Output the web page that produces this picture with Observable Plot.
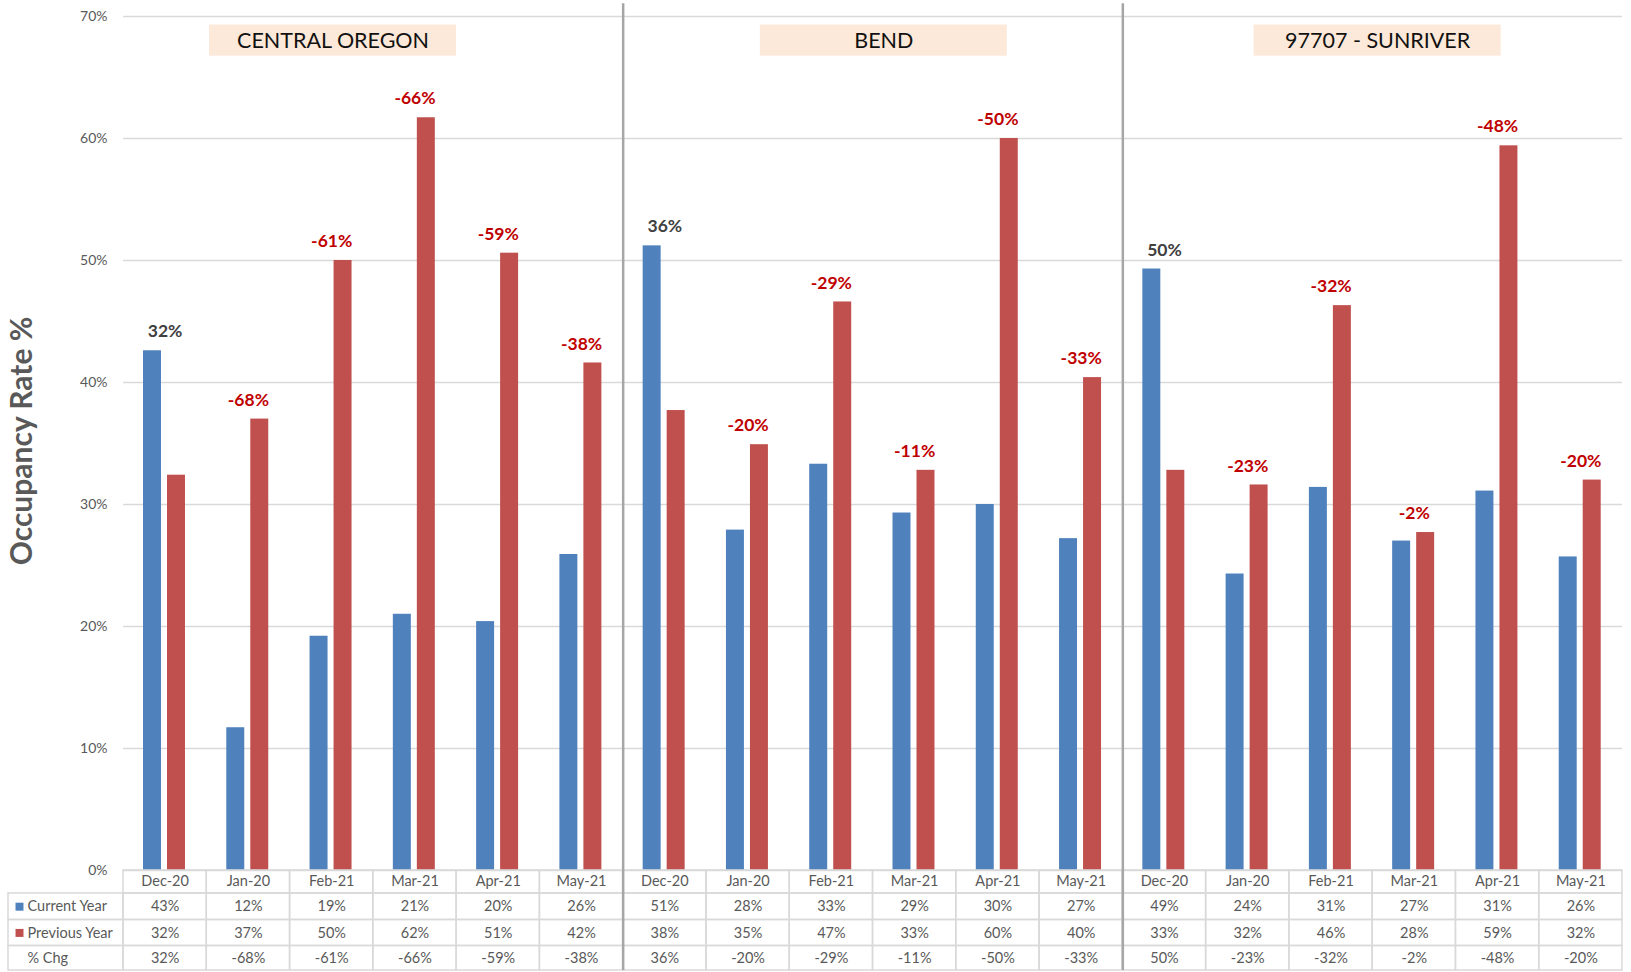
<!DOCTYPE html>
<html>
<head>
<meta charset="utf-8">
<script src="https://cdn.jsdelivr.net/npm/d3@7"></script>
<script src="https://cdn.jsdelivr.net/npm/@observablehq/plot@0.6"></script>
<style>
  html, body { margin: 0; padding: 0; background: #fff; }
  #chart svg { display: block; }
</style>
</head>
<body>
<div id="chart"></div>
<script>
// ---------- DATA ----------
const months = ["Dec-20", "Jan-20", "Feb-21", "Mar-21", "Apr-21", "May-21"];
const regionNames = ["CENTRAL OREGON", "BEND", "97707 - SUNRIVER"];

const coCurrent  = [42.6, 11.7, 19.2, 21.0, 20.4, 25.9];
const coPrevious = [32.4, 37.0, 50.0, 61.7, 50.6, 41.6];
const coChg      = ["32%", "-68%", "-61%", "-66%", "-59%", "-38%"];

const bendCurrent  = [51.2, 27.9, 33.3, 29.3, 30.0, 27.2];
const bendPrevious = [37.7, 34.9, 46.6, 32.8, 60.0, 40.4];
const bendChg      = ["36%", "-20%", "-29%", "-11%", "-50%", "-33%"];

const srCurrent  = [49.3, 24.3, 31.4, 27.0, 31.1, 25.7];
const srPrevious = [32.8, 31.6, 46.3, 27.7, 59.4, 32.0];
const srChg      = ["50%", "-23%", "-32%", "-2%", "-48%", "-20%"];

const yTicks = [0, 10, 20, 30, 40, 50, 60, 70];
const rowLabels = ["Current Year", "Previous Year", "% Chg"];

// ---------- LAYOUT (not data) ----------
const xLeft = -1.381;                    // left edge of the table label column, in group units
const titleCenters = [2.516, 9.13, 15.06]; // title box centres, in group units
const titleHalf = 1.483;
const rowBounds = [0, -1.885, -4.06, -6.19, -8.2]; // table row borders in y units
const rowMid = [-0.92, -2.97, -5.12, -7.2];
const colors = {cur: "#4f81bd", prev: "#c0504d"};

// ---------- BUILD TABLES ----------
const series = [
  [coCurrent, coPrevious, coChg],
  [bendCurrent, bendPrevious, bendChg],
  [srCurrent, srPrevious, srChg]
];
const groups = [];
series.forEach(([cur, prev, chg], r) => {
  months.forEach((m, j) => {
    groups.push({idx: r * 6 + j, region: regionNames[r], month: m, cur: cur[j], prev: prev[j], chg: chg[j]});
  });
});
const bars = groups.flatMap(g => [
  {idx: g.idx, series: "cur", value: g.cur},
  {idx: g.idx, series: "prev", value: g.prev}
]);
const titles = regionNames.map((name, r) => ({name, c: titleCenters[r]}));

const cells = [];
groups.forEach(g => {
  for (let k = 0; k < 4; k++) cells.push({x1: g.idx, x2: g.idx + 1, y1: rowBounds[k + 1], y2: rowBounds[k]});
});
for (let k = 1; k < 4; k++) cells.push({x1: xLeft, x2: 0, y1: rowBounds[k + 1], y2: rowBounds[k]});

const tableTexts = groups.flatMap(g => [
  {idx: g.idx, row: 0, text: g.month},
  {idx: g.idx, row: 1, text: Math.round(g.cur) + "%"},
  {idx: g.idx, row: 2, text: Math.round(g.prev) + "%"},
  {idx: g.idx, row: 3, text: g.chg}
]);
const rowLabelData = rowLabels.map((t, k) => ({t, row: k + 1}));
const legendSquares = [{row: 1, c: colors.cur}, {row: 2, c: colors.prev}];

const gray = "#595959";

const chart = Plot.plot({
  width: 1631,
  height: 972,
  marginLeft: 8,
  marginRight: 9,
  marginTop: 16,
  marginBottom: 2,
  x: {type: "linear", domain: [xLeft, 18], axis: null},
  y: {type: "linear", domain: [-8.2, 70], axis: null},
  style: {fontFamily: "Lato, 'Open Sans', sans-serif", background: "#fff"},
  marks: [
    // gridlines
    Plot.ruleY(yTicks, {y: d => d, x1: 0, x2: 18, stroke: "#d9d9d9", strokeWidth: 1.5}),
    // y tick labels
    Plot.text(yTicks, {x: 0, y: d => d, text: d => d + "%", textAnchor: "end", dx: -16, fontSize: 14, fill: gray}),
    // region title boxes
    Plot.rect(titles, {x1: d => d.c - titleHalf, x2: d => d.c + titleHalf, y1: 66.75, y2: 69.3, fill: "#fde9d9"}),
    Plot.text(titles, {x: "c", y: 68.02, text: "name", fontSize: 21.5, fill: "#111"}),
    // bars
    Plot.rectY(bars.filter(d => d.series === "cur"), {x1: d => d.idx, x2: d => d.idx + 1, y: "value", fill: colors.cur, insetLeft: 20, insetRight: 45.3}),
    Plot.rectY(bars.filter(d => d.series === "prev"), {x1: d => d.idx, x2: d => d.idx + 1, y: "value", fill: colors.prev, insetLeft: 44, insetRight: 21.3}),
    // change labels
    Plot.text(groups, {
      x: d => d.idx + 0.5, y: d => Math.max(d.cur, d.prev), text: "chg", dy: -19,
      fontSize: 17.5, fontWeight: "bold",
      fill: d => d.chg.startsWith("-") ? "#c00000" : "#404040"
    }),
    // table cells
    Plot.rect(cells, {x1: "x1", x2: "x2", y1: "y1", y2: "y2", fill: "none", stroke: "#d9d9d9", strokeWidth: 1.5}),
    // table texts
    Plot.text(tableTexts, {x: d => d.idx + 0.5, y: d => rowMid[d.row], text: "text", fontSize: 14.5, fill: gray}),
    Plot.text(rowLabelData, {x: xLeft, y: d => rowMid[d.row], text: "t", textAnchor: "start", dx: 19, fontSize: 14.5, fill: gray}),
    Plot.dot(legendSquares, {x: xLeft, y: d => rowMid[d.row], dx: 11, symbol: "square", r: 4.5, fill: d => d.c, stroke: "none"}),
    // region dividers
    Plot.ruleX([6, 12], {x: d => d, y1: -8.2, y2: 71.05, stroke: "#a6a6a6", strokeWidth: 2.5}),
    // y axis title
    Plot.text(["Occupancy Rate %"], {x: xLeft, y: 35.2, text: d => d, rotate: -90, dx: 14, fontSize: 30, fontWeight: "bold", fill: gray})
  ]
});
document.getElementById("chart").appendChild(chart);
</script>
</body>
</html>
